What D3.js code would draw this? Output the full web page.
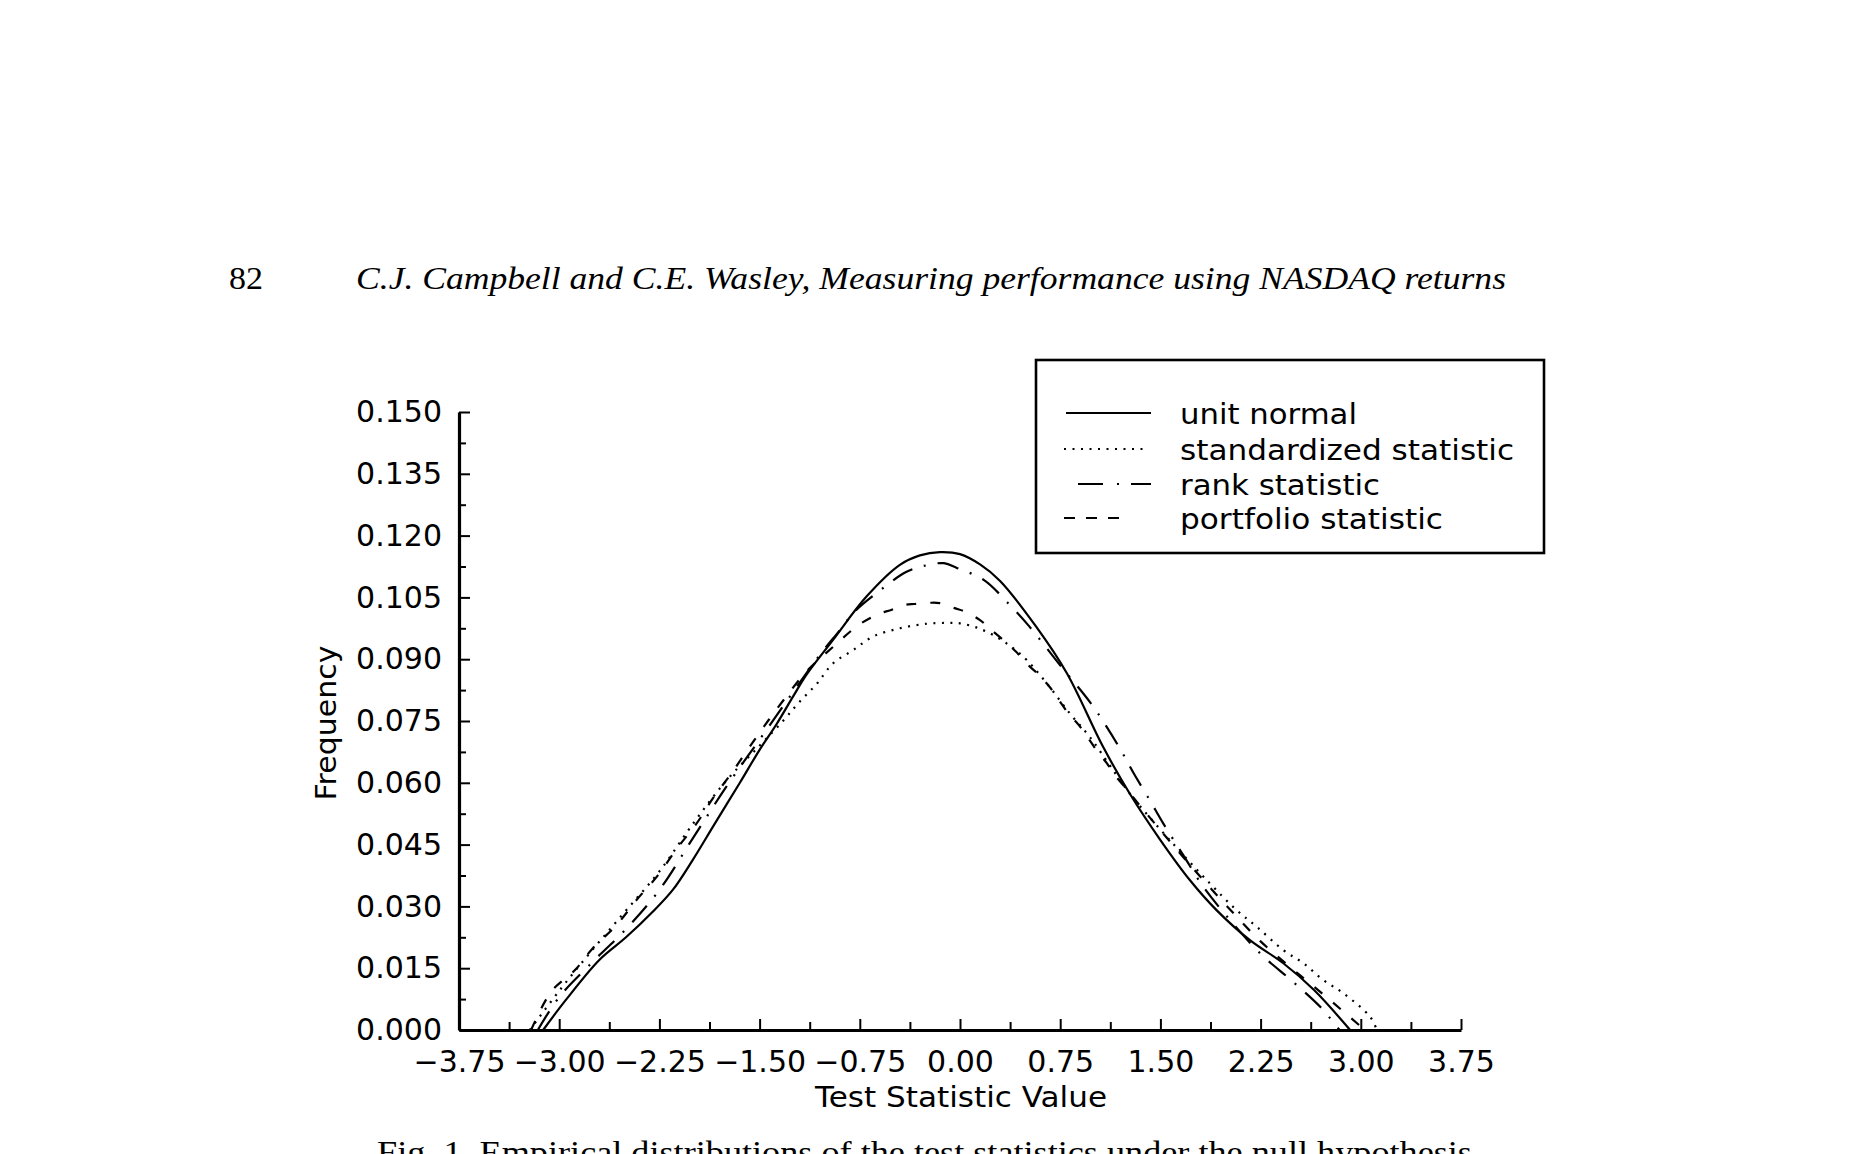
<!DOCTYPE html>
<html>
<head>
<meta charset="utf-8">
<script src="https://cdnjs.cloudflare.com/ajax/libs/d3/7.8.5/d3.min.js"></script>
<style>
  html, body { margin: 0; padding: 0; background: #fff; }
  svg { display: block; }
</style>
</head>
<body>
<svg id="chart" width="1858" height="1154"></svg>
<script>
// ---------- data ----------
const seriesNames = ["unit normal", "standardized statistic", "rank statistic", "portfolio statistic"];

const unitX = [-3.12, -2.95, -2.70, -2.50, -2.30, -2.15, -2.00, -1.85, -1.65, -1.50, -1.37, -1.25, -1.15, -0.95, -0.70, -0.45, -0.30, -0.15, 0.00, 0.15, 0.30, 0.57, 0.80, 1.07, 1.27, 1.50, 1.72, 1.92, 2.17, 2.42, 2.65, 2.92];
const unitY = [0.0000, 0.0073, 0.0170, 0.0225, 0.0287, 0.0340, 0.0413, 0.0493, 0.0599, 0.0680, 0.0744, 0.0809, 0.0862, 0.0947, 0.1052, 0.1129, 0.1152, 0.1160, 0.1155, 0.1130, 0.1090, 0.0979, 0.0866, 0.0688, 0.0574, 0.0461, 0.0364, 0.0291, 0.0218, 0.0162, 0.0097, 0.0000];

const stdX = [-3.22, -3.00, -2.75, -2.50, -2.25, -2.00, -1.75, -1.50, -1.32, -1.20, -1.07, -0.95, -0.80, -0.65, -0.45, -0.25, -0.10, 0.00, 0.14, 0.28, 0.40, 0.50, 0.67, 0.82, 0.97, 1.12, 1.27, 1.57, 1.87, 2.07, 2.22, 2.42, 2.57, 2.72, 2.87, 3.07, 3.12];
const stdY = [0.0000, 0.0095, 0.0195, 0.0290, 0.0385, 0.0500, 0.0605, 0.0690, 0.0752, 0.0797, 0.0841, 0.0890, 0.0922, 0.0955, 0.0975, 0.0986, 0.0988, 0.0987, 0.0975, 0.0953, 0.0926, 0.0898, 0.0833, 0.0769, 0.0712, 0.0643, 0.0574, 0.0461, 0.0356, 0.0291, 0.0251, 0.0194, 0.0162, 0.0121, 0.0089, 0.0032, 0.0000];

const rankX = [-3.16, -3.00, -2.75, -2.50, -2.25, -2.00, -1.75, -1.50, -1.25, -1.05, -0.90, -0.79, -0.61, -0.40, -0.25, -0.12, -0.02, 0.18, 0.36, 0.52, 0.75, 0.97, 1.09, 1.21, 1.30, 1.42, 1.52, 1.67, 1.82, 2.00, 2.25, 2.50, 2.70, 2.84];
const rankY = [0.0000, 0.0080, 0.0165, 0.0245, 0.0340, 0.0465, 0.0590, 0.0705, 0.0820, 0.0910, 0.0970, 0.1015, 0.1064, 0.1112, 0.1128, 0.1133, 0.1121, 0.1092, 0.1036, 0.0979, 0.0885, 0.0797, 0.0740, 0.0676, 0.0623, 0.0558, 0.0502, 0.0425, 0.0348, 0.0275, 0.0185, 0.0115, 0.0055, 0.0000];

const portX = [-3.21, -3.06, -2.88, -2.75, -2.57, -2.42, -2.26, -2.12, -1.97, -1.85, -1.72, -1.59, -1.46, -1.32, -1.15, -0.95, -0.75, -0.60, -0.52, -0.41, -0.34, -0.22, -0.15, -0.04, 0.04, 0.15, 0.22, 0.34, 0.42, 0.51, 0.59, 0.67, 0.74, 0.81, 0.89, 0.96, 1.02, 1.10, 1.15, 1.24, 1.30, 1.50, 1.75, 2.00, 2.25, 2.50, 2.75, 3.03];
const portY = [0.0000, 0.0093, 0.0146, 0.0198, 0.0255, 0.0316, 0.0376, 0.0440, 0.0502, 0.0562, 0.0619, 0.0680, 0.0740, 0.0801, 0.0870, 0.0930, 0.0985, 0.1011, 0.1019, 0.1032, 0.1034, 0.1037, 0.1036, 0.1024, 0.1015, 0.0995, 0.0975, 0.0942, 0.0918, 0.0886, 0.0862, 0.0833, 0.0801, 0.0769, 0.0740, 0.0708, 0.0680, 0.0647, 0.0623, 0.0587, 0.0563, 0.0485, 0.0390, 0.0300, 0.0215, 0.0145, 0.0078, 0.0000];

const yTickValues = [0.000, 0.015, 0.030, 0.045, 0.060, 0.075, 0.090, 0.105, 0.120, 0.135, 0.150];
const xTickValues = [-3.75, -3.00, -2.25, -1.50, -0.75, 0.00, 0.75, 1.50, 2.25, 3.00, 3.75];

// ---------- layout ----------
const svg = d3.select("#chart");
const plotLeft = 459, plotRight = 1461, plotTop = 412, plotBottom = 1030;
const x = d3.scaleLinear().domain([-3.75, 3.75]).range([plotLeft, plotRight]);
const y = d3.scaleLinear().domain([0, 0.15]).range([plotBottom, plotTop]);
const FONT = "'DejaVu Sans', sans-serif";

// page header
svg.append("text").attr("x", 229).attr("y", 289)
  .attr("font-family", "'Liberation Serif', serif").attr("font-size", 31)
  .attr("textLength", 34).attr("lengthAdjust", "spacingAndGlyphs")
  .text("82");
svg.append("text").attr("x", 356).attr("y", 289)
  .attr("font-family", "'Liberation Serif', serif").attr("font-style", "italic").attr("font-size", 31)
  .attr("textLength", 1150).attr("lengthAdjust", "spacingAndGlyphs")
  .text("C.J. Campbell and C.E. Wasley, Measuring performance using NASDAQ returns");

// caption (cut off at page bottom, as in the source scan)
svg.append("text").attr("x", 377).attr("y", 1163)
  .attr("font-family", "'Liberation Serif', serif").attr("font-size", 31)
  .attr("textLength", 1104).attr("lengthAdjust", "spacingAndGlyphs")
  .text("Fig. 1. Empirical distributions of the test statistics under the null hypothesis.");

// ---------- axes ----------
const yMinor = d3.range(0, 10).map(i => yTickValues[i] + 0.0075);
const xMinor = d3.range(0, 10).map(i => xTickValues[i] + 0.375);

const gy = svg.append("g").attr("transform", `translate(${plotLeft},0)`)
  .call(d3.axisLeft(y).tickValues(yTickValues).tickSize(-11).tickSizeOuter(0).tickPadding(17).tickFormat(d3.format(".3f")));
const gyMinor = svg.append("g").attr("transform", `translate(${plotLeft},0)`)
  .call(d3.axisLeft(y).tickValues(yMinor).tickSize(-7).tickSizeOuter(0).tickFormat(""));
const gx = svg.append("g").attr("transform", `translate(0,${plotBottom})`)
  .call(d3.axisBottom(x).tickValues(xTickValues).tickSize(-11).tickSizeOuter(0).tickPadding(21).tickFormat(d3.format(".2f")));
const gxMinor = svg.append("g").attr("transform", `translate(0,${plotBottom})`)
  .call(d3.axisBottom(x).tickValues(xMinor).tickSize(-8).tickSizeOuter(0).tickFormat(""));

[gy, gyMinor, gx, gxMinor].forEach(g => {
  g.select(".domain").attr("stroke", "#000").attr("stroke-width", 3.2);
  g.selectAll(".tick line").attr("stroke", "#000").attr("stroke-width", 2);
  g.selectAll(".tick text").attr("font-family", FONT).attr("font-size", 30).attr("fill", "#000");
});
gxMinor.select(".domain").remove();
gyMinor.select(".domain").remove();

// axis titles
svg.append("text").attr("x", 961).attr("y", 1107)
  .attr("text-anchor", "middle").attr("font-family", FONT).attr("font-size", 29)
  .attr("textLength", 292).attr("lengthAdjust", "spacingAndGlyphs")
  .text("Test Statistic Value");
svg.append("text").attr("transform", "translate(336,723) rotate(-90)")
  .attr("text-anchor", "middle").attr("font-family", FONT).attr("font-size", 29)
  .attr("textLength", 155).attr("lengthAdjust", "spacingAndGlyphs")
  .text("Frequency");

// ---------- curves ----------
const styles = [
  { xs: unitX, ys: unitY, dash: null },
  { xs: stdX, ys: stdY, dash: "2,6.5" },
  { xs: rankX, ys: rankY, dash: "22,12,2,12" },
  { xs: portX, ys: portY, dash: "10,14" }
];
const line = d3.line().x(d => x(d[0])).y(d => y(d[1])).curve(d3.curveCatmullRom.alpha(0.5));
styles.forEach(s => {
  const pts = s.xs.map((v, i) => [v, s.ys[i]]);
  svg.append("path").attr("d", line(pts))
    .attr("fill", "none").attr("stroke", "#000").attr("stroke-width", 2.2)
    .attr("stroke-dasharray", s.dash);
});

// ---------- legend ----------
const lg = svg.append("g");
lg.append("rect").attr("x", 1036).attr("y", 360).attr("width", 508).attr("height", 193)
  .attr("fill", "#fff").attr("stroke", "#000").attr("stroke-width", 2.6);
const rowY = [413, 449, 484, 518];
const legendDash = [null, "2,6.5", "25,14,2,12", "11,11"];
const legendStart = [1066, 1064, 1078, 1064];
const legendEnd = [1151, 1146, 1151, 1130];
const legendLen = [177, 334, 200, 263];
seriesNames.forEach((name, i) => {
  lg.append("line").attr("x1", legendStart[i]).attr("x2", legendEnd[i])
    .attr("y1", rowY[i]).attr("y2", rowY[i])
    .attr("stroke", "#000").attr("stroke-width", 2.2).attr("stroke-dasharray", legendDash[i]);
  lg.append("text").attr("x", 1180).attr("y", rowY[i] + 11)
    .attr("font-family", FONT).attr("font-size", 28)
    .attr("textLength", legendLen[i]).attr("lengthAdjust", "spacingAndGlyphs")
    .text(name);
});
</script>
</body>
</html>
